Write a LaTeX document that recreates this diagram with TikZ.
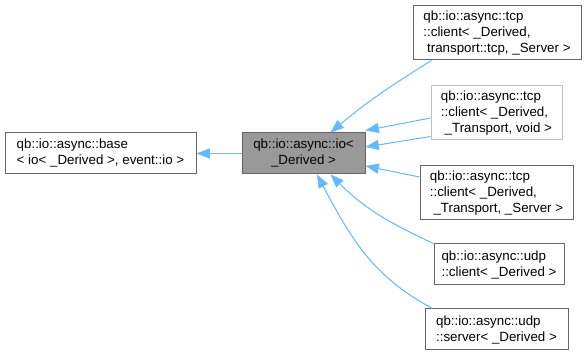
\documentclass[tikz,border=0pt]{standalone}
\usepackage{fontspec}
\setmainfont{Liberation Sans}
\usetikzlibrary{arrows.meta,calc}
\definecolor{edgeblue}{HTML}{63B8FF}
\definecolor{boxline}{HTML}{666666}
\definecolor{boxlight}{HTML}{BFBFBF}
\definecolor{boxfill}{HTML}{999999}
\tikzset{
  cls/.style={draw=boxline,fill=white,line width=0.75pt,inner sep=0pt,align=left,
    font=\fontsize{10}{12}\selectfont},
  sz/.style 2 args={minimum width=#1*0.75pt,minimum height=#2*0.75pt},
  inh/.style={->,draw=edgeblue,line width=0.75pt}
}
\newcommand{\lead}{\mbox{}\ }

\begin{document}
\begin{tikzpicture}[x=0.75pt,y=0.75pt,>={Triangle[length=10pt,width=7.5pt]}]
  \useasboundingbox (0,0) rectangle (586,356);

  \node[cls,sz={191}{41}] (base) at (100.5,202.5) {qb::io::async::base\\< io< \_Derived >, event::io >};
  \node[cls,sz={123}{41},fill=boxfill,align=center] (io) at (303.5,202.5) {qb::io::async::io<\\\_Derived >};
  \node[cls,sz={168}{54}] (tcpsrv) at (497,323) {qb::io::async::tcp\\::client< \_Derived,\\\lead transport::tcp, \_Server >};
  \node[cls,sz={131}{54},draw=boxlight] (tcpvoid) at (496.5,243) {qb::io::async::tcp\\::client< \_Derived,\\\lead \_Transport, void >};
  \node[cls,sz={153}{54}] (tcpcli) at (496.5,163) {qb::io::async::tcp\\::client< \_Derived,\\\lead \_Transport, \_Server >};
  \node[cls,sz={130}{41}] (udpcli) at (499,91.5) {qb::io::async::udp\\::client< \_Derived >};
  \node[cls,sz={143}{41}] (udpsrv) at (496.5,26.5) {qb::io::async::udp\\::server< \_Derived >};

  \draw[inh] (io.west) -- (base.east);
  \draw[inh] ($(tcpsrv.south west)+(19,0)$) to[out=212,in=40] ($(io.north)+(27,0)$);
  \draw[inh] ($(tcpvoid.west)+(0,-5)$) -- ($(io.north east)+(0,2)$);
  \draw[inh] ($(tcpvoid.south west)+(0,4)$) -- ($(io.east)+(0,6.5)$);
  \draw[inh] ($(tcpcli.west)+(0,16)$) -- ($(io.east)+(0,-12.5)$);
  \draw[inh] (udpcli.north west) to[out=155,in=-45] ($(io.south)+(27,0)$);
  \draw[inh] ($(udpsrv.north west)+(8,0)$) to[out=152,in=-62] ($(io.south)+(13.5,0)$);
\end{tikzpicture}
\end{document}
